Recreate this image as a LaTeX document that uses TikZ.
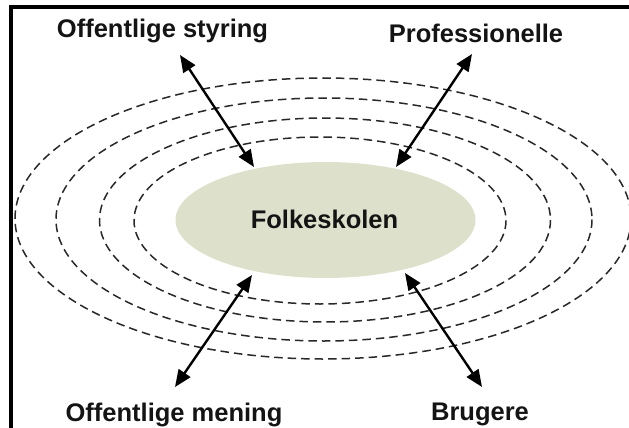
\documentclass[tikz,border=0pt]{standalone}
\usepackage{fontspec}
\setmainfont{Liberation Sans}
\usetikzlibrary{arrows.meta,shapes.geometric}
\definecolor{coreFill}{RGB}{221,225,204}
\definecolor{ringGray}{RGB}{40,40,40}
\definecolor{inkDark}{RGB}{20,20,20}
\tikzset{
  ring/.style={draw=ringGray, line width=1.5pt, dash pattern=on 8.5pt off 5pt},
  core/.style={ellipse, fill=coreFill, minimum width=300pt, minimum height=116pt, inner sep=0pt},
  lbl/.style={font=\bfseries\fontsize{25.5}{30}\selectfont, text=inkDark, anchor=base, inner sep=0pt},
  link/.style={draw=black, line width=2.4pt, {Triangle[length=17pt,width=14pt]}-{Triangle[length=17pt,width=14pt]}},
}
\begin{document}
\begin{tikzpicture}[x=1pt, y=-1pt]
\useasboundingbox (0,0) rectangle (629,428);
\fill[white] (0,0) rectangle (629,428);

% concentric dashed rings
\draw[ring] (320,220.5) ellipse [x radius=186, y radius=83.5];
\draw[ring] (325,220) ellipse [x radius=225.5, y radius=102];
\draw[ring] (324,219.5) ellipse [x radius=268, y radius=121.5];
\draw[ring] (323,218.5) ellipse [x radius=308, y radius=140.5];

% central school
\node[core] (school) at (325.5,220) {};
\node[lbl] (schooltxt) at (324.5,228.5) {Folkeskolen};

% outer actors
\node[lbl] (styring) at (162.5,37.5) {Offentlige styring};
\node[lbl] (prof) at (476,43) {Professionelle};
\node[lbl] (mening) at (174,421) {Offentlige mening};
\node[lbl] (brug) at (480,420) {Brugere};

% arrow end points
\coordinate (s1) at (180,55);   \coordinate (e1) at (254,167);
\coordinate (s2) at (472,54);   \coordinate (e2) at (396,167);
\coordinate (s3) at (175,387);  \coordinate (e3) at (252,275);
\coordinate (s4) at (482,387);  \coordinate (e4) at (405,273);

\draw[link] (s1) -- (e1);
\draw[link] (s2) -- (e2);
\draw[link] (s3) -- (e3);
\draw[link] (s4) -- (e4);

% frame lines
\fill[black] (9,5) rectangle (629,9);
\fill[black] (9,5) rectangle (13,428);
\end{tikzpicture}
\end{document}
